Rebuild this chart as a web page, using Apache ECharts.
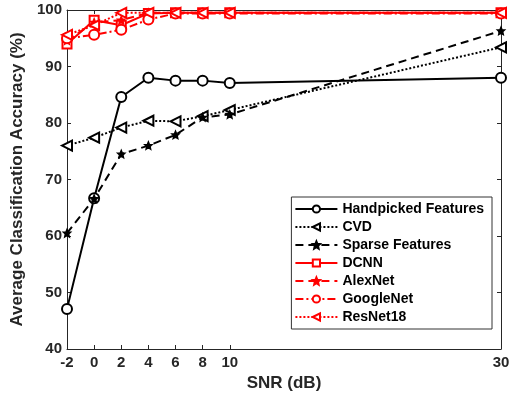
<!DOCTYPE html>
<html>
<head>
    <meta charset="utf-8">
    <title>SNR accuracy</title>
    <script src="https://cdn.jsdelivr.net/npm/echarts@6.0.0/dist/echarts.min.js"></script>
    <style>
        html, body { margin: 0; padding: 0; background: #fff; }
        #chart { width: 514px; height: 400px; }
    </style>
</head>
<body>
    <div id="chart"></div>
    <script>
        // data
        var snr = [-2, 0, 2, 4, 6, 8, 10, 30];
        var xTicks = [-2, 0, 2, 4, 6, 8, 10, 30];
        var handpicked = [47.1, 66.7, 84.6, 88.0, 87.5, 87.5, 87.1, 88.0];
        var cvd = [76.0, 77.4, 79.2, 80.4, 80.3, 81.2, 82.3, 93.4];
        var sparse = [60.5, 66.6, 74.5, 76.0, 77.9, 81.0, 81.5, 96.3];
        var dcnn = [94.0, 98.2, 97.3, 99.4, 99.5, 99.5, 99.5, 99.5];
        var alexnet = [94.6, 97.8, 98.2, 99.5, 99.5, 99.5, 99.5, 99.5];
        var googlenet = [95.0, 95.6, 96.5, 98.3, 99.4, 99.4, 99.4, 99.4];
        var resnet18 = [95.6, 97.3, 99.5, 99.5, 99.5, 99.5, 99.5, 99.5];

        var star = 'path://M5,0 L6.4,3.2 L10,3.5 L7.3,5.9 L8.1,9.5 L5,7.6 L1.9,9.5 L2.7,5.9 L0,3.5 L3.6,3.2 Z';
        var font = 'Liberation Sans, Arial, sans-serif';

        function pairs(ys) {
            return snr.map(function (x, i) { return [x, ys[i]]; });
        }

        function line(name, ys, color, type, symbol, size, rotate) {
            return {
                name: name,
                type: 'line',
                data: pairs(ys),
                symbol: symbol,
                symbolSize: size,
                symbolRotate: rotate || 0,
                showAllSymbol: true,
                lineStyle: { color: color, width: 2, type: type },
                itemStyle: { color: color, borderColor: color, borderWidth: 1.6 }
            };
        }

        var chart = echarts.init(document.getElementById('chart'));
        var axisLine = { show: true, onZero: false, lineStyle: { color: '#262626', width: 1 } };
        var option = {
            animation: false,
            grid: { left: 67, right: 13, top: 10, bottom: 51 },
            legend: {
                orient: 'vertical',
                right: 22,
                top: 197,
                itemWidth: 42,
                itemHeight: 9,
                itemGap: 4,
                padding: [5, 8, 5, 3],
                backgroundColor: '#fff',
                borderColor: '#333',
                borderWidth: 1,
                borderRadius: 0,
                textStyle: { fontFamily: font, fontWeight: 'bold', fontSize: 14, color: '#000' }
            },
            xAxis: [{
                type: 'value',
                min: -2, max: 30, interval: 2,
                name: 'SNR (dB)',
                nameLocation: 'middle',
                nameGap: 26,
                nameTextStyle: { fontFamily: font, fontWeight: 'bold', fontSize: 17, color: '#262626' },
                axisLine: axisLine,
                axisTick: { show: true, inside: true, length: 4, customValues: xTicks, lineStyle: { color: '#262626' } },
                axisLabel: { customValues: xTicks, fontFamily: font, fontWeight: 'bold', fontSize: 15, color: '#262626', margin: 6 },
                splitLine: { show: false }
            }, {
                type: 'value', position: 'top',
                min: -2, max: 30, interval: 2,
                axisLine: axisLine,
                axisTick: { show: true, inside: true, length: 4, customValues: xTicks, lineStyle: { color: '#262626' } },
                axisLabel: { show: false },
                splitLine: { show: false }
            }],
            yAxis: [{
                type: 'value',
                min: 40, max: 100, interval: 10,
                name: 'Average Classification Accuracy (%)',
                nameLocation: 'middle',
                nameGap: 40,
                nameTextStyle: { fontFamily: font, fontWeight: 'bold', fontSize: 17, color: '#262626' },
                axisLine: axisLine,
                axisTick: { show: true, inside: true, length: 4, lineStyle: { color: '#262626' } },
                axisLabel: { fontFamily: font, fontWeight: 'bold', fontSize: 15, color: '#262626', margin: 5 },
                splitLine: { show: false }
            }, {
                type: 'value', position: 'right',
                min: 40, max: 100, interval: 10,
                axisLine: axisLine,
                axisTick: { show: true, inside: true, length: 4, lineStyle: { color: '#262626' } },
                axisLabel: { show: false },
                splitLine: { show: false }
            }],
            series: [
                line('Handpicked Features', handpicked, '#000', 'solid', 'emptyCircle', 10),
                line('CVD', cvd, '#000', [2, 2], 'emptyTriangle', 10, 90),
                line('Sparse Features', sparse, '#000', [8, 5], star, 7),
                line('DCNN', dcnn, '#ff0000', 'solid', 'emptyRect', 9),
                line('AlexNet', alexnet, '#ff0000', [8, 5], star, 7),
                line('GoogleNet', googlenet, '#ff0000', [8, 3, 2, 3], 'emptyCircle', 10),
                line('ResNet18', resnet18, '#ff0000', [2, 2], 'emptyTriangle', 10, 90)
            ]
        };
        chart.setOption(option);
    </script>
</body>
</html>
